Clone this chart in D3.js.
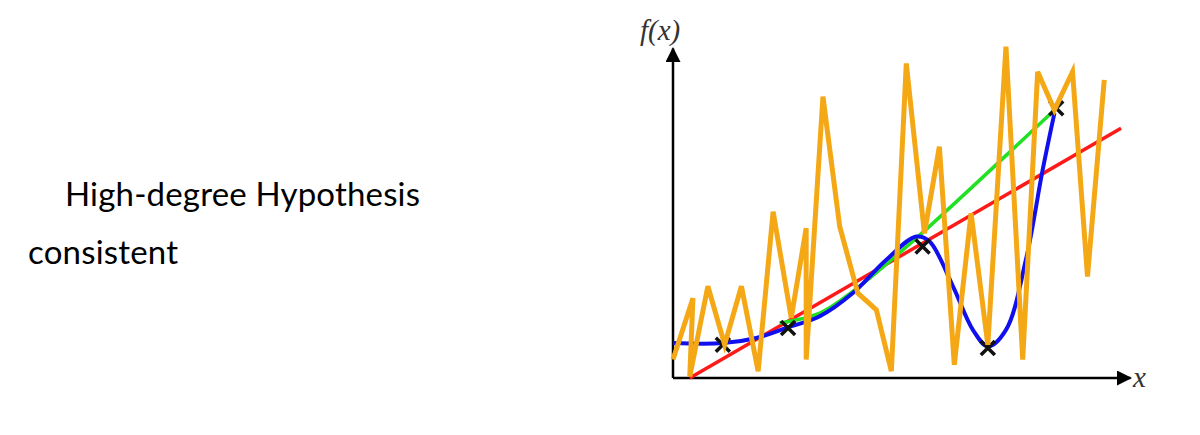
<!DOCTYPE html>
<html><head><meta charset="utf-8">
<script src="https://cdn.jsdelivr.net/npm/d3@7"></script>
<style>body{margin:0;background:#fff}</style>
</head><body>
<svg id="chart" width="1200" height="435"></svg>
<script>
// data (x, y in 0..100 plot units)
var orange = [[0,5.7],[4.4,24.7],[3.7,0.5],[7.7,28.4],[11.4,10.3],[15.1,28.4],[18.8,2.1],[22.1,51.5],
  [26.1,18.6],[29.4,46.4],[29.4,5.7],[33.1,87.1],[36.8,46.9],[40.8,26.3],[44.9,21.1],[48.2,2.1],
  [51.5,97.4],[55.5,44.8],[58.8,71.6],[62.1,4.1],[65.8,51.0],[69.5,10.3],[73.5,102.6],[77.2,5.7],
  [80.5,94.8],[84.2,83.0],[88.2,94.8],[91.5,31.4],[95.2,92.3]];
var blue = [[0,10.8],[11,10.8],[18.4,12.4],[25,15.5],[32.4,19.1],[39.7,26.3],[47.1,36.6],[53.7,43.8],
  [56.6,42.3],[61.8,28.4],[66.2,14.9],[69.5,9.8],[73.5,14.9],[77.9,36.6],[81.6,64.4],[84.2,82]];
var green = [[23.5,17],[32.4,20.1],[39.7,26.8],[53.7,43.3],[84.2,83]];
var red = [[3.7,0],[98.9,77.3]];
var samples = [[11,10.3],[25.4,15.5],[55.1,40.7],[69.5,9.3],[84.6,83.5]];

var svg = d3.select("#chart");
var x = d3.scaleLinear().domain([0, 100]).range([673, 1126]);
var y = d3.scaleLinear().domain([0, 100]).range([378, 55]);

// text on the left
svg.append("text").attr("x", 65).attr("y", 206).attr("font-family", "Lato")
  .attr("font-size", "33px").attr("textLength", 355).text("High-degree Hypothesis");
svg.append("text").attr("x", 28).attr("y", 264).attr("font-family", "Lato")
  .attr("font-size", "33px").attr("textLength", 150).text("consistent");

// axes with arrows
var defs = svg.append("defs");
defs.append("marker").attr("id", "arr").attr("viewBox", "0 0 10 10").attr("refX", 9).attr("refY", 5)
  .attr("markerWidth", 8).attr("markerHeight", 6).attr("orient", "auto")
  .append("path").attr("d", "M0,0L10,5L0,10Z").attr("fill", "#000");
svg.append("line").attr("x1", x(0)).attr("y1", y(0)).attr("x2", x(0)).attr("y2", y(102))
  .attr("stroke", "#000").attr("stroke-width", 2.5).attr("marker-end", "url(#arr)");
svg.append("line").attr("x1", x(0)).attr("y1", y(0)).attr("x2", x(101)).attr("y2", y(0))
  .attr("stroke", "#000").attr("stroke-width", 2.5).attr("marker-end", "url(#arr)");
svg.append("text").attr("x", 640).attr("y", 40).attr("font-family", "Liberation Serif")
  .attr("font-style", "italic").attr("font-size", "29px").attr("fill", "#333").text("f(x)");
svg.append("text").attr("x", 1133).attr("y", 387).attr("font-family", "Liberation Serif")
  .attr("font-style", "italic").attr("font-size", "29px").attr("fill", "#333").text("x");

var line = d3.line().x(function(d) { return x(d[0]); }).y(function(d) { return y(d[1]); });
var smooth = d3.line().x(function(d) { return x(d[0]); }).y(function(d) { return y(d[1]); })
  .curve(d3.curveCatmullRom);

svg.append("path").attr("d", line(red)).attr("fill", "none").attr("stroke", "#ff1a1a").attr("stroke-width", 3.5);
svg.append("path").attr("d", smooth(green)).attr("fill", "none").attr("stroke", "#22e022").attr("stroke-width", 3.5);
svg.append("path").attr("d", smooth(blue)).attr("fill", "none").attr("stroke", "#1010ee").attr("stroke-width", 4);

// sample crosses
svg.selectAll(".cross").data(samples).enter().append("path")
  .attr("d", function(d) {
    var cx = x(d[0]), cy = y(d[1]), s = 7;
    return "M" + (cx - s) + "," + (cy - s) + "L" + (cx + s) + "," + (cy + s) +
      "M" + (cx - s) + "," + (cy + s) + "L" + (cx + s) + "," + (cy - s);
  })
  .attr("stroke", "#111").attr("stroke-width", 3.5);

svg.append("path").attr("d", line(orange)).attr("fill", "none").attr("stroke", "#f5a816")
  .attr("stroke-width", 5).attr("stroke-linejoin", "miter");
</script>
</body></html>
